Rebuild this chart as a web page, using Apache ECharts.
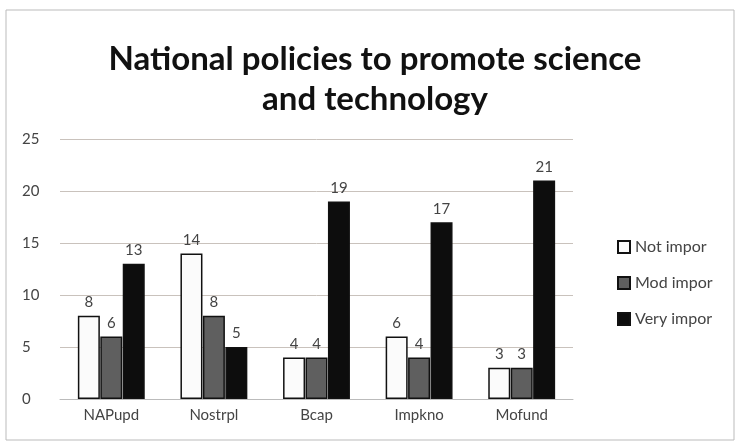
<!DOCTYPE html>
<html>
<head>
<meta charset="utf-8">
<style>
  html, body { margin: 0; padding: 0; background: #fff; }
  #chart { width: 737px; height: 446px; }
</style>
<script src="https://cdn.jsdelivr.net/npm/echarts@6/dist/echarts.min.js"></script>
</head>
<body>
<div id="chart"></div>
<script>
var categories = ["NAPupd", "Nostrpl", "Bcap", "Impkno", "Mofund"];
var seriesNames = ["Not impor", "Mod impor", "Very impor"];
var notImpor = [8, 14, 4, 6, 3];
var modImpor = [6, 8, 4, 4, 3];
var veryImpor = [13, 5, 19, 17, 21];
var yTicks = [0, 5, 10, 15, 20, 25];

var chart = echarts.init(document.getElementById("chart"));

function barSeries(name, values, fill) {
  return {
    name: name,
    type: "bar",
    data: values,
    barWidth: 22,
    barGap: "2%",
    itemStyle: {
      color: fill,
      borderColor: "#111",
      borderWidth: 1.5
    },
    label: {
      show: true,
      position: "top",
      distance: 6,
      color: "#444",
      fontSize: 15,
      fontFamily: "Lato"
    }
  };
}

var option = {
  animation: false,
  backgroundColor: "#fff",
  title: {
    text: "National policies to promote science\nand technology",
    left: 370,
    textAlign: "center",
    top: 34,
    textStyle: {
      fontFamily: "Lato",
      fontWeight: "bold",
      fontSize: 33,
      color: "#111",
      lineHeight: 40
    }
  },
  legend: {
    orient: "vertical",
    left: 612,
    top: 234,
    itemWidth: 12,
    itemHeight: 12,
    itemGap: 20,
    icon: "rect",
    data: seriesNames,
    textStyle: { fontFamily: "Lato", fontSize: 16, color: "#444" }
  },
  grid: {
    left: 60,
    right: 164,
    top: 139,
    bottom: 47
  },
  xAxis: {
    type: "category",
    data: categories,
    axisTick: { show: false },
    axisLine: { lineStyle: { color: "#bbb" } },
    axisLabel: { color: "#444", fontSize: 15, fontFamily: "Lato", margin: 9 }
  },
  yAxis: {
    type: "value",
    min: yTicks[0],
    max: yTicks[yTicks.length - 1],
    interval: 5,
    axisLine: { show: false },
    axisTick: { show: false },
    splitLine: { lineStyle: { color: "#c9c2bc" } },
    axisLabel: { color: "#444", fontSize: 15, fontFamily: "Lato", margin: 38, align: "left" }
  },
  graphic: [{
    type: "rect",
    shape: { x: 6, y: 10, width: 728, height: 430 },
    style: { fill: "none", stroke: "#bbb", lineWidth: 1 },
    silent: true
  }],
  series: [
    barSeries(seriesNames[0], notImpor, "#fbfbfb"),
    barSeries(seriesNames[1], modImpor, "#5f5f5f"),
    barSeries(seriesNames[2], veryImpor, "#0d0d0d")
  ]
};

chart.setOption(option);
</script>
</body>
</html>
